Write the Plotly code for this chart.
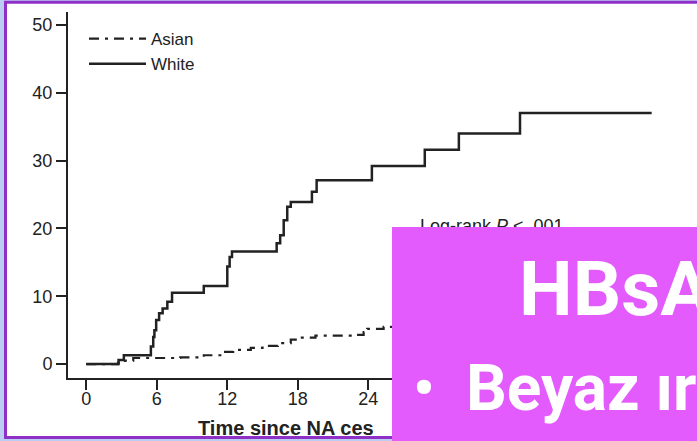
import plotly.graph_objects as go

# ---------------- data ----------------
white_t = [0, 2.75, 3.2, 5.5, 5.7, 5.8, 5.95, 6.2, 6.5, 6.9, 7.3, 10.0, 12.0, 12.2, 12.4,
           16.2, 16.5, 16.8, 17.1, 17.4, 19.2, 19.6, 24.3, 28.8, 31.7, 36.9, 48.1]
white_v = [0, 0.6, 1.3, 2.6, 4.0, 5.0, 6.5, 7.5, 8.2, 9.2, 10.5, 11.5, 14.4, 15.8, 16.6,
           17.8, 19.0, 21.2, 23.2, 23.9, 25.4, 27.1, 29.2, 31.6, 34.0, 37.0, 37.0]

asian_t = [0, 2.7, 3.3, 4.0, 8.0, 10.0, 11.5, 12.5, 14.0, 15.0, 16.3, 17.4, 18.0, 19.5,
           22.7, 23.6, 23.9, 25.3, 28.0, 32.0, 36.0, 42.0, 48.0]
asian_v = [0, 0.2, 0.5, 0.9, 1.0, 1.3, 1.8, 2.1, 2.4, 2.7, 3.1, 3.6, 3.9, 4.2,
           4.3, 4.7, 5.2, 5.5, 5.8, 6.2, 6.6, 7.0, 7.0]

# visible tick labels (later ones are hidden behind the slide box)
x_ticks = [0, 6, 12, 18, 24]
y_ticks = [0, 10, 20, 30, 40, 50]

legend_names = ["Asian", "White"]
x_title = "Time since NA ces"
pvalue_text = "Log-rank <i>P</i> < .001"
box_title = "HBsA"
box_bullet = "\u2022"
box_line = "Beyaz ır"

# ---------------- layout geometry ----------------
W, H = 697, 441
L, R, T, B = 68, 23, 12, 63
PW, PH = W - L - R, H - T - B


def px2x(px):
    return (px - L) / PW


def py2y(py):
    return (H - B - py) / PH


INK = "#222222"
CHART_FONT = "Liberation Sans"
MAGENTA = "#E35BFC"

fig = go.Figure()
fig.add_trace(go.Scatter(
    x=asian_t, y=asian_v, mode="lines", name=legend_names[0],
    line=dict(shape="hv", color=INK, width=2.2, dash="10px,6px,3px,6px"),
))
fig.add_trace(go.Scatter(
    x=white_t, y=white_v, mode="lines", name=legend_names[1],
    line=dict(shape="hv", color=INK, width=2.5),
))

axis_font = dict(family=CHART_FONT, size=18, color=INK)

fig.update_xaxes(
    range=[-1.55, 50], tickvals=x_ticks, showgrid=False, zeroline=False,
    showline=True, linecolor=INK, linewidth=2,
    ticks="outside", ticklen=10, tickwidth=1.5, tickcolor=INK,
    tickfont=axis_font, ticklabelstandoff=-7,
)
fig.update_yaxes(
    range=[-2.05, 51.9], tickvals=y_ticks, showgrid=False, zeroline=False,
    showline=True, linecolor=INK, linewidth=2,
    ticks="outside", ticklen=10, tickwidth=1.5, tickcolor=INK,
    tickfont=axis_font,
)

annotations = [
    dict(text=f"<b>{x_title}</b>", xref="paper", yref="paper",
         x=px2x(196), y=py2y(428), xanchor="left", yanchor="middle",
         showarrow=False, font=dict(family=CHART_FONT, size=20, color=INK)),
    dict(text=pvalue_text, xref="paper", yref="paper",
         x=px2x(418), y=py2y(214), xanchor="left", yanchor="top",
         showarrow=False, font=dict(family=CHART_FONT, size=18, color=INK)),
    # overlay box of the slide
    dict(text=" ", xref="paper", yref="paper",
         x=px2x(392), y=py2y(226.7), xanchor="left", yanchor="top",
         width=320, height=230, bgcolor=MAGENTA, borderpad=0, borderwidth=0,
         showarrow=False),
    dict(text=f"<b>{box_title}</b>", xref="paper", yref="paper",
         x=px2x(517), y=py2y(289), xanchor="left", yanchor="middle",
         showarrow=False, font=dict(family="Roboto", size=76, color="white")),
    dict(text=f"<b>{box_bullet}</b>", xref="paper", yref="paper",
         x=px2x(424), y=py2y(388), xanchor="center", yanchor="middle",
         showarrow=False, font=dict(family="Roboto", size=60, color="white")),
    dict(text=f"<b>{box_line}</b>", xref="paper", yref="paper",
         x=px2x(464), y=py2y(388), xanchor="left", yanchor="middle",
         showarrow=False, font=dict(family="Roboto", size=64, color="white")),
]

shapes = [
    dict(type="rect", xref="paper", yref="paper", layer="below",
         x0=px2x(5.5), x1=px2x(730), y0=py2y(437.5), y1=py2y(2.2),
         fillcolor="white", line=dict(color="#8E2FC6", width=3)),
]

fig.update_layout(
    width=W, height=H,
    margin=dict(l=L, r=R, t=T, b=B, pad=0),
    paper_bgcolor="#BCCDF2", plot_bgcolor="white",
    showlegend=True,
    legend=dict(x=px2x(84), y=py2y(21), xanchor="left", yanchor="top",
                bgcolor="rgba(0,0,0,0)", itemwidth=57, tracegroupgap=0,
                font=dict(family=CHART_FONT, size=17, color=INK)),
    annotations=annotations,
    shapes=shapes,
)

fig.write_html(
    "out.html",
    config={"displayModeBar": False},
    post_script="document.body.style.margin='0';document.body.style.overflow='hidden';",
)
